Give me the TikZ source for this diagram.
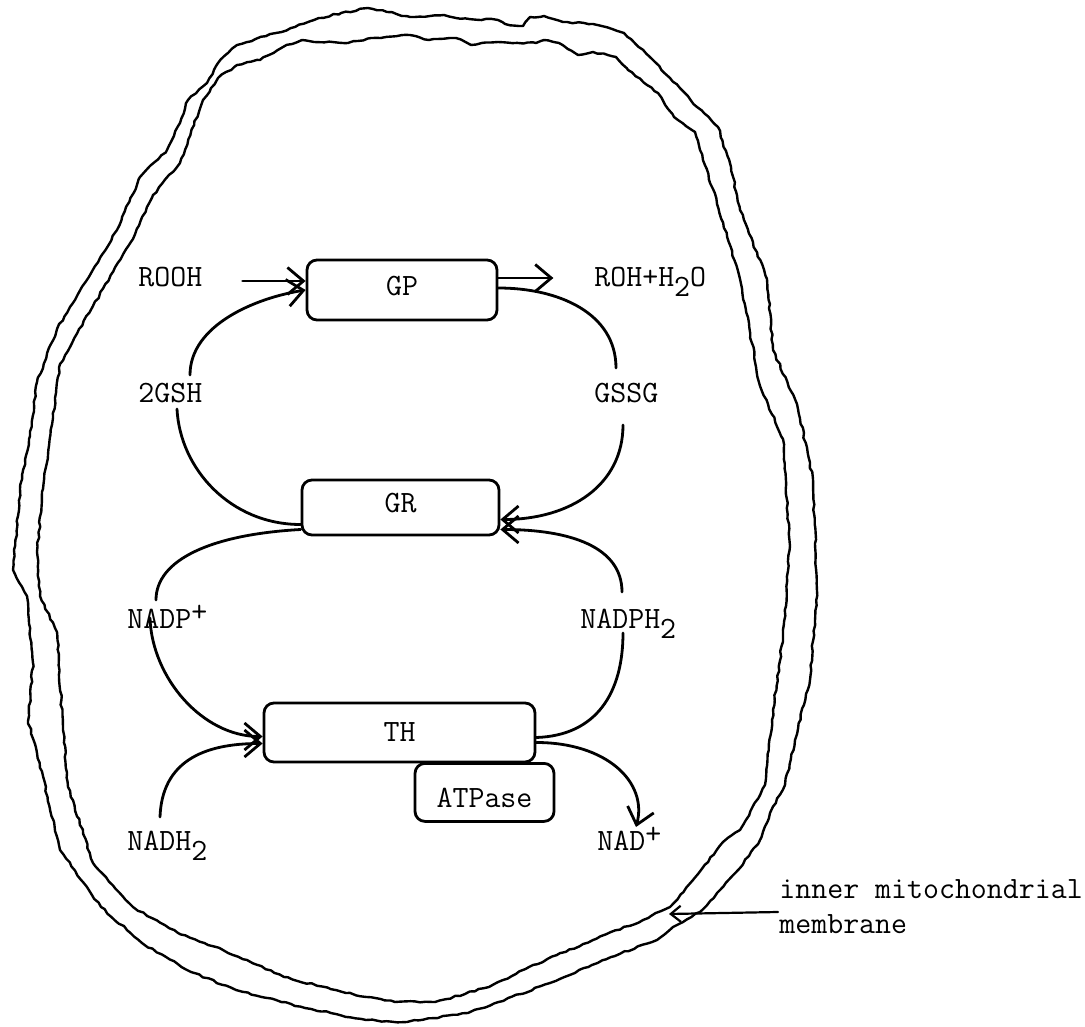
\documentclass[tikz,border=0pt]{standalone}
\usepackage{fontspec}
\usetikzlibrary{arrows.meta,calc,decorations.pathmorphing}
\newcommand{\lowtwo}{\raisebox{-10pt}{2}}
\newcommand{\hiplus}{\raisebox{7pt}{+}}
\newcommand{\twfont}{\fontsize{31}{37}\selectfont\ttfamily\addfontfeatures{FakeBold=2.5}}
\begin{document}
\pgfmathsetseed{7}
\begin{tikzpicture}[x=1pt,y=-1pt, line width=2.8pt, line cap=round, line join=round,
  txt/.style={font=\twfont, inner sep=0pt, anchor=base west},
  enz/.style={draw, rounded corners=10pt, font=\twfont, inner sep=0pt},
  arr/.style={-{Straight Barb[length=16pt,width=27pt]}},
  smallarr/.style={-{Straight Barb[length=10pt,width=16pt]}},
  mem/.style={line width=2.4pt, decorate, decoration={random steps, segment length=5pt, amplitude=0.9pt}}]
\fill[white] (0,0) rectangle (1085,1027);
\useasboundingbox (0,0) rectangle (1085,1027);

% membranes
\draw[mem] plot[sharp cycle] coordinates {
(180,123) (188,100) (207,83) (218,63) (237,45) (276,33) (295,27) (314,20) (341,13) (368,8) (387,12) (410,17) (444,15) (456,18) (498,20) (505,24) (523,26) (530,17) (544,16) (563,22) (593,24) (624,33) (655,62) (670,78) (697,107) (718,127) (731,167) (740,210) (767,279) (773,350) (797,404) (813,479) (817,591) (810,680) (795,740) (785,785) (770,813) (760,840) (740,868) (720,890) (700,912) (673,927) (657,940) (611,957) (550,983) (468,1013) (407,1022) (366,1020) (305,1008) (236,990) (191,972) (142,943) (101,907) (60,850) (37,753) (28,721) (33,663) (27,596) (13,570) (20,489) (30,436) (37,382) (57,329) (90,275) (117,230) (140,177) (167,150)};
\draw[mem] plot[sharp cycle] coordinates {
(180,163) (203,100) (218,78) (237,65) (260,60) (283,47) (302,40) (314,42) (348,43) (371,38) (410,35) (429,40) (456,38) (471,45) (498,42) (536,43) (544,40) (559,43) (578,55) (593,52) (616,57) (628,70) (647,85) (658,93) (674,117) (695,132) (700,150) (713,189) (740,279) (760,386) (783,439) (790,546) (783,636) (772,720) (765,785) (740,830) (723,842) (693,880) (670,907) (643,920) (593,940) (529,967) (489,987) (435,1002) (395,1002) (346,993) (284,977) (223,950) (178,933) (133,907) (93,863) (68,787) (63,730) (57,632) (40,596) (37,552) (43,489) (53,418) (60,364) (93,306) (133,239) (153,195)};

% enzymes
\node[enz, minimum width=190pt, minimum height=60pt, text height=15pt, text depth=5pt] (gp) at (402,290) {GP};
\node[enz, minimum width=197pt, minimum height=55pt, text height=15pt, text depth=5pt] (gr) at (400.5,507.5) {GR};
\node[enz, minimum width=271pt, minimum height=59pt] (th) at (399.5,732.5) {TH};
\node[enz, minimum width=139pt, text height=44pt, text depth=14pt, anchor=north] (atp) at (484.5,762) {ATPase};

% metabolites
\node[txt] (rooh)  at (137,287) {ROOH};
\node[txt] (roh)   at (593,287) {ROH+H\lowtwo O};
\node[txt] (gsh)   at (137,402) {2GSH};
\node[txt] (gssg)  at (593,402) {GSSG};
\node[txt] (nadp)  at (126,628) {NADP\hiplus};
\node[txt] (nadph) at (579,628) {NADPH\lowtwo};
\node[txt] (nadh)  at (126,850) {NADH\lowtwo};
\node[txt] (nad)   at (596,850) {NAD\hiplus};
\node[txt] (mito)  at (778,898) {inner mitochondrial};
\node[txt] (membr) at (778,933) {membrane};
\coordinate (memtip) at (669,914);

% connectors
\draw[arr] ($(gp.west)+(-63,-9)$) -- ($(gp.west)+(0,-9)$);
\draw[arr] ($(gp.east)+(0,-12)$) -- ($(gp.east)+(55,-12)$);
\draw ($(gp.east)+(0,-2)$) .. controls +(60,0) and +(0,-55) .. ($(gssg.base west)+(23,-34)$);
\draw[arr] ($(gsh.base west)+(53,-27)$) .. controls +(0,-50) and +(-50,8) .. ($(gp.west)+(0,0)$);
\draw ($(gsh.base west)+(40,7)$) .. controls +(3,60) and +(-70,0) .. ($(gr.west)+(0,17)$);
\draw ($(gr.west)+(0,22)$) .. controls +(-90,5) and +(0,-40) .. ($(nadp.base west)+(30,-28)$);
\draw[arr] ($(gssg.base west)+(30,23)$) .. controls +(0,60) and +(70,0) .. ($(gr.east)+(0,12)$);
\draw[arr] ($(nadph.base west)+(43,-36)$) .. controls +(0,-45) and +(70,0) .. ($(gr.east)+(0,22)$);
\draw[arr] ($(nadp.base west)+(24,-10)$) .. controls +(2,60) and +(-60,0) .. ($(th.west)+(0,4)$);
\draw[arr] ($(nadh.base west)+(34,-33)$) .. controls +(2,-55) and +(-60,0) .. ($(th.west)+(0,11)$);
\draw ($(th.east)+(0,5)$) .. controls +(60,-2) and +(0,60) .. ($(nadph.base west)+(44,5)$);
\draw[arr] ($(th.east)+(0,10)$) .. controls +(70,0) and +(12,-45) .. ($(nad.base west)+(40,-23)$);
\draw[smallarr, line width=2.2pt] ($(mito.base west)+(0,14)$) -- (memtip);
\end{tikzpicture}
\end{document}
